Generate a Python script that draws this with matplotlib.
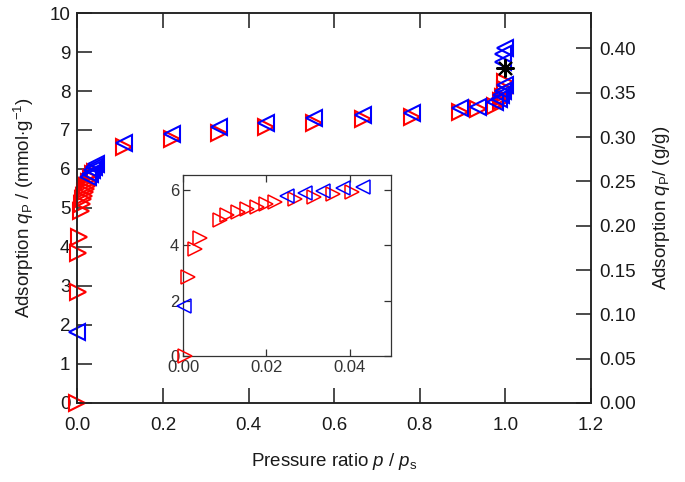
import matplotlib
matplotlib.use("Agg")
import matplotlib.pyplot as plt

plt.rcParams['font.family'] = ['Liberation Sans', 'DejaVu Sans']
plt.rcParams['mathtext.fontset'] = 'custom'
plt.rcParams['mathtext.rm'] = 'Liberation Sans'
plt.rcParams['mathtext.it'] = 'Liberation Sans:italic'
plt.rcParams['mathtext.bf'] = 'Liberation Sans:bold'

# Adsorption branch (red, right-pointing triangles)
ads_x = [0.0003, 0.0012, 0.0028, 0.004, 0.0088, 0.0104, 0.0132, 0.0154, 0.0178,
         0.0199, 0.0221, 0.0269, 0.0315, 0.036, 0.0405,
         0.108, 0.221, 0.332, 0.44, 0.554, 0.668, 0.781, 0.893, 0.937, 0.976,
         0.99, 0.995, 0.998, 1.0, 1.0]
ads_y = [0.0, 2.84, 3.85, 4.25, 4.92, 5.10, 5.22, 5.30, 5.40,
         5.48, 5.56, 5.67, 5.76, 5.86, 5.92,
         6.56, 6.76, 6.93, 7.07, 7.19, 7.27, 7.34, 7.47, 7.53, 7.62,
         7.75, 7.85, 7.95, 8.05, 8.24]

# Desorption branch (blue, left-pointing triangles)
des_x = [0.0002, 0.0249, 0.0293, 0.0337, 0.0384, 0.0433,
         0.108, 0.221, 0.332, 0.44, 0.554, 0.668, 0.781, 0.893, 0.937, 0.976,
         0.985, 0.99, 0.995, 1.0, 0.995, 0.995, 1.0]
des_y = [1.81, 5.79, 5.88, 5.98, 6.06, 6.12,
         6.66, 6.91, 7.07, 7.19, 7.30, 7.38, 7.43, 7.56, 7.60, 7.73,
         7.80, 7.90, 8.00, 8.15, 8.75, 8.95, 9.10]

# Saturation point (black star)
sat_x = [1.0]
sat_y = [8.58]

# Axis ticks
main_xticks = [0.0, 0.2, 0.4, 0.6, 0.8, 1.0, 1.2]
main_yticks = list(range(0, 11))
right_yticks = [0.00, 0.05, 0.10, 0.15, 0.20, 0.25, 0.30, 0.35, 0.40]
inset_xticks = [0.00, 0.02, 0.04]
inset_yticks = [0, 2, 4, 6]
inset_xmax = 0.05

fig = plt.figure(figsize=(6.85, 4.82), dpi=100)
ax = fig.add_axes([0.1128, 0.164, 0.7500, 0.809])

txtc = '#1a1a1a'
fs = 13.5

ax.plot(ads_x, ads_y, linestyle='none', marker='>', markersize=12, mfc='none',
        mec='#ff0000', mew=1.5, clip_on=False, zorder=3)
ax.plot(des_x, des_y, linestyle='none', marker='<', markersize=12, mfc='none',
        mec='#0000ff', mew=1.5, clip_on=False, zorder=4)
ax.plot(sat_x, sat_y, linestyle='none', marker=(8, 2, 0), markersize=13,
        mec='black', mew=1.5, zorder=5)

ax.set_xlim(0, 1.2)
ax.set_ylim(0, 10)
ax.set_xticks(main_xticks)
ax.set_xticklabels([f"{v:.1f}" for v in main_xticks])
ax.set_yticks(main_yticks)
ax.tick_params(direction='in', length=11, width=1.1, labelsize=fs, colors=txtc,
               top=True, right=False, pad=5)
ax.tick_params(axis='x', pad=10)
for s in ax.spines.values():
    s.set_linewidth(1.1)
    s.set_color('#222222')

ax.set_xlabel(r"Pressure ratio $p$ / $p_\mathrm{s}$", fontsize=fs, color=txtc, labelpad=12)
ax.set_ylabel(r"Adsorption $q_\mathrm{P}$ / (mmol$\cdot$g$^{-1}$)", fontsize=fs,
              color=txtc, labelpad=10)

ax2 = ax.twinx()
ax2.set_ylim(0, 0.44)
ax2.set_yticks(right_yticks)
ax2.set_yticklabels([f"{v:.2f}" for v in right_yticks])
ax2.tick_params(direction='in', length=11, width=1.1, labelsize=fs, colors=txtc, pad=6)
for s in ax2.spines.values():
    s.set_linewidth(1.1)
    s.set_color('#222222')
ax2.set_ylabel(r"Adsorption $q_\mathrm{P}$/ (g/g)", fontsize=fs, color=txtc, labelpad=11)

# Inset (low-pressure region only)
ins_ax = [(x, y) for x, y in zip(ads_x, ads_y) if x <= inset_xmax]
ins_de = [(x, y) for x, y in zip(des_x, des_y) if x <= inset_xmax]
axi = fig.add_axes([0.2676, 0.262, 0.3033, 0.375])
axi.plot([p[0] for p in ins_ax], [p[1] for p in ins_ax], linestyle='none', marker='>',
         markersize=10, mfc='none', mec='#ff0000', mew=1.1, clip_on=False, zorder=3)
axi.plot([p[0] for p in ins_de], [p[1] for p in ins_de], linestyle='none', marker='<',
         markersize=10, mfc='none', mec='#0000ff', mew=1.1, clip_on=False, zorder=4)
axi.set_xlim(0, inset_xmax)
axi.set_ylim(0, 6.55)
axi.set_xticks(inset_xticks)
axi.set_xticklabels([f"{v:.2f}" for v in inset_xticks])
axi.set_yticks(inset_yticks)
axi.tick_params(direction='in', length=5, width=0.9, labelsize=12, colors='#333333',
                top=True, right=True, pad=3)
for s in axi.spines.values():
    s.set_linewidth(0.9)
    s.set_color('#333333')

fig.savefig("out.png", dpi=100)
